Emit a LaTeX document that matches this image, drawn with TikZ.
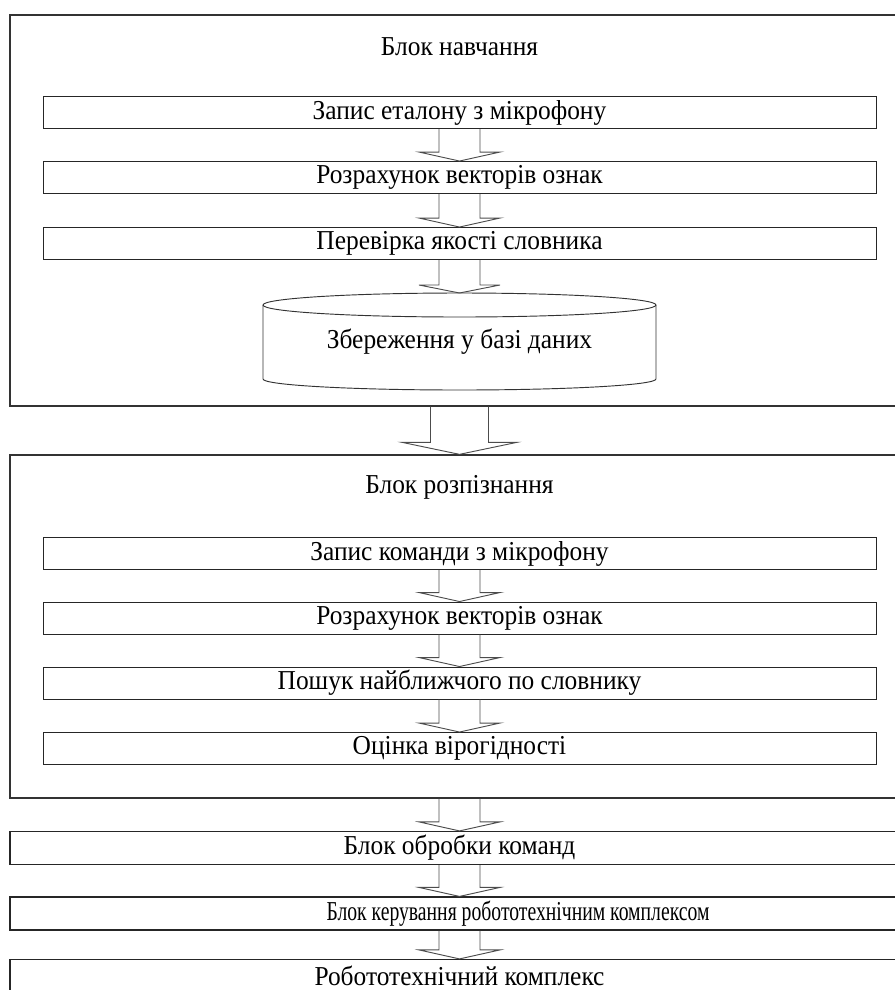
\documentclass[tikz,border=0pt]{standalone}
\usepackage{fontspec}
\setmainfont[FakeStretch=0.93]{Liberation Serif}
\newfontfamily\narrowfont[FakeStretch=0.72]{Liberation Serif}
\usepackage{tikz}
\usetikzlibrary{calc}
\def\px{0.75pt}
\def\CX{459.5}
\def\InnerW{833}
\def\OuterW{899}
\tikzset{
  stage/.style={draw=black!85, line width=0.7pt, rectangle, minimum width=\InnerW*\px,
    minimum height=32*\px, inner sep=0pt, font=\fontsize{20.5}{22}\selectfont},
  block/.style={draw=black!80, line width=1pt, rectangle, minimum width=\OuterW*\px,
    inner sep=0pt},
  wide/.style={stage, line width=0.9pt, minimum width=\OuterW*\px, minimum height=33*\px},
  title/.style={font=\fontsize{20.5}{22}\selectfont, inner sep=0pt},
  flow/.style={draw=black!70, line width=0.7pt, line join=miter},
}
% hollow block arrow: from, to, shaft half width, head half width, head length (px)
\newcommand{\hollowarrow}[5]{%
  \draw[flow] let \p1=(#1), \p2=(#2) in
    (\x1-#3*\px,\y1) -- (\x1-#3*\px,\y2+#5*\px) -- (\x1-#4*\px,\y2+#5*\px)
    -- (\x1,\y2) -- (\x1+#4*\px,\y2+#5*\px) -- (\x1+#3*\px,\y2+#5*\px)
    -- (\x1+#3*\px,\y1);}
\begin{document}
\begin{tikzpicture}[x=\px,y=\px]
  \useasboundingbox (0,0) rectangle (894,-990);
  % 
  % training block
  \node[block, minimum height=391*\px] (train) at (\CX,-210.5) {};
  \node[title] (traintitle) at (\CX,-47) {Блок навчання};
  \node[stage] (trec) at (\CX,-112.5) {Запис еталону з мікрофону};
  \node[stage] (tvec) at (\CX,-177.5) {Розрахунок векторів ознак};
  \node[stage] (tcheck) at (\CX,-243.5) {Перевірка якості словника};
  % database
  \coordinate (dbtop) at (\CX,-293);
  \draw[draw=black!80, line width=0.7pt] (\CX-196.5,-305) -- (\CX-196.5,-379)
    arc[start angle=180, end angle=360, x radius=196.5, y radius=11] -- (\CX+196.5,-305);
  \draw[draw=black!80, line width=0.7pt] (\CX,-305) ellipse [x radius=196.5, y radius=12];
  \node[title] (db) at (\CX,-342) {Збереження у базі даних};
  % 
  % recognition block
  \node[block, minimum height=343*\px] (recog) at (\CX,-626.5) {};
  \node[title] (recogtitle) at (\CX,-487) {Блок розпізнання};
  \node[stage] (rrec) at (\CX,-553.5) {Запис команди з мікрофону};
  \node[stage] (rvec) at (\CX,-618) {Розрахунок векторів ознак};
  \node[stage] (rsearch) at (\CX,-683) {Пошук найближчого по словнику};
  \node[stage] (rest) at (\CX,-748.5) {Оцінка вірогідності};
  % 
  % output chain
  \node[wide] (proc) at (\CX,-848) {Блок обробки команд};
  \node[wide] (ctrl) at (\CX,-913.5) {};
  \node[title, font=\fontsize{20.5}{22}\narrowfont] (ctrltext) at (518,-913.5)
    {Блок керування робототехнічним комплексом};
  \node[wide, text depth=0pt] (robot) at (\CX,-976) {Робототехнічний комплекс};
  % 
  % arrows
  \hollowarrow{trec.south}{tvec.north}{20.5}{40.5}{9}
  \hollowarrow{tvec.south}{tcheck.north}{20.5}{40.5}{9}
  \hollowarrow{tcheck.south}{dbtop}{20.5}{40.5}{8}
  \hollowarrow{train.south}{recog.north}{29}{57.5}{12}
  \hollowarrow{rrec.south}{rvec.north}{20.5}{40.5}{9}
  \hollowarrow{rvec.south}{rsearch.north}{20.5}{40.5}{9}
  \hollowarrow{rsearch.south}{rest.north}{20.5}{40.5}{9}
  \hollowarrow{recog.south}{proc.north}{20.5}{40.5}{9}
  \hollowarrow{proc.south}{ctrl.north}{20.5}{40.5}{9}
  \hollowarrow{ctrl.south}{robot.north}{20.5}{40.5}{9}
\end{tikzpicture}
\end{document}
